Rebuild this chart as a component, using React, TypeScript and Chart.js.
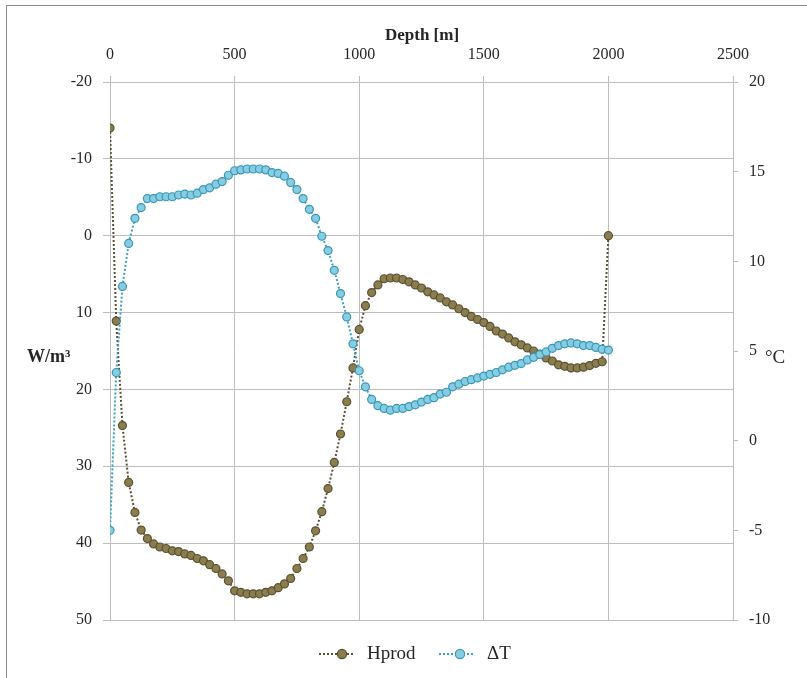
import React, { useEffect, useRef } from "react";
import { Chart, registerables } from "chart.js";

Chart.register(...registerables);

// Depth samples along the well [m]
const depths = [
  0, 25, 50, 75, 100, 125, 150, 175, 200, 225, 250, 275, 300, 325, 350, 375, 400,
  425, 450, 475, 500, 525, 550, 575, 600, 625, 650, 675, 700, 725, 750, 775, 800,
  825, 850, 875, 900, 925, 950, 975, 1000, 1025, 1050, 1075, 1100, 1125, 1150,
  1175, 1200, 1225, 1250, 1275, 1300, 1325, 1350, 1375, 1400, 1425, 1450, 1475,
  1500, 1525, 1550, 1575, 1600, 1625, 1650, 1675, 1700, 1725, 1750, 1775, 1800,
  1825, 1850, 1875, 1900, 1925, 1950, 1975, 2000,
];

// Heat production [W/m³] (left axis, reversed)
const hprod = [
  -14.0, 11.1, 24.7, 32.1, 36.0, 38.3, 39.4, 40.1, 40.5, 40.7, 41.0, 41.1, 41.4,
  41.6, 42.0, 42.3, 42.8, 43.3, 44.0, 44.9, 46.2, 46.4, 46.6, 46.6, 46.6, 46.4,
  46.2, 45.8, 45.3, 44.6, 43.3, 42.0, 40.5, 38.4, 35.9, 32.9, 29.5, 25.8, 21.6,
  17.2, 12.2, 9.1, 7.4, 6.4, 5.6, 5.5, 5.5, 5.7, 6.0, 6.4, 6.8, 7.3, 7.7, 8.1,
  8.6, 9.0, 9.5, 10.0, 10.5, 10.9, 11.3, 11.8, 12.4, 12.8, 13.3, 13.8, 14.2,
  14.6, 15.0, 15.4, 15.9, 16.3, 16.8, 17.0, 17.2, 17.2, 17.1, 16.9, 16.6, 16.4,
  0.0,
];

// Temperature difference [°C] (right axis)
const deltaT = [
  -5.0, 3.8, 8.6, 11.0, 12.4, 13.0, 13.5, 13.5, 13.6, 13.6, 13.6, 13.7, 13.75,
  13.7, 13.8, 14.0, 14.1, 14.3, 14.45, 14.8, 15.05, 15.1, 15.15, 15.15, 15.15,
  15.1, 14.95, 14.9, 14.75, 14.4, 14.0, 13.5, 12.9, 12.4, 11.4, 10.6, 9.5, 8.2,
  6.9, 5.4, 3.9, 3.0, 2.3, 1.95, 1.8, 1.7, 1.8, 1.8, 1.9, 2.0, 2.15, 2.3, 2.4,
  2.6, 2.7, 3.0, 3.15, 3.3, 3.4, 3.5, 3.6, 3.7, 3.8, 3.95, 4.1, 4.2, 4.3, 4.5,
  4.65, 4.8, 4.95, 5.15, 5.3, 5.4, 5.45, 5.4, 5.3, 5.3, 5.2, 5.1, 5.05,
];

const FONT = "'Liberation Serif', 'DejaVu Serif', serif";
const GRID = "#bdbdbd";
const TEXT = "#262626";

const H_LINE = "#57523a";
const H_FILL = "#8a7d4e";
const H_EDGE = "#5a5031";
const T_LINE = "#3d9fc4";
const T_FILL = "#86cde2";
const T_EDGE = "#3a96b6";

// Axis titles and the dotted-marker legend drawn onto the canvas
const annotations = {
  id: "annotations",
  afterDraw(chart: any) {
    const ctx = chart.ctx;
    ctx.save();
    ctx.fillStyle = TEXT;
    ctx.textBaseline = "middle";

    ctx.font = `bold 17px ${FONT}`;
    ctx.textAlign = "center";
    ctx.fillText("Depth [m]", 422, 36);

    ctx.font = `bold 18px ${FONT}`;
    ctx.textAlign = "left";
    ctx.fillText("W/m³", 27, 357);

    ctx.font = `19px ${FONT}`;
    ctx.fillText("°C", 765, 358);

    const item = (x1: number, x2: number, cx: number, tx: number, line: string, fill: string, edge: string, label: string) => {
      const y = 654;
      ctx.save();
      ctx.strokeStyle = line;
      ctx.lineWidth = 2;
      ctx.setLineDash([2, 2]);
      ctx.beginPath();
      ctx.moveTo(x1, y);
      ctx.lineTo(x2, y);
      ctx.stroke();
      ctx.setLineDash([]);
      ctx.beginPath();
      ctx.arc(cx, y, 4.6, 0, Math.PI * 2);
      ctx.fillStyle = fill;
      ctx.fill();
      ctx.lineWidth = 1.2;
      ctx.strokeStyle = edge;
      ctx.stroke();
      ctx.restore();
      ctx.font = `19px ${FONT}`;
      ctx.fillStyle = TEXT;
      ctx.textAlign = "left";
      ctx.fillText(label, tx, y);
    };
    item(319, 355, 342, 367, H_LINE, H_FILL, H_EDGE, "Hprod");
    item(439, 473, 460, 487, T_LINE, T_FILL, T_EDGE, "ΔT");
    ctx.restore();
  },
};

export default function App() {
  const canvasRef = useRef<HTMLCanvasElement | null>(null);

  useEffect(() => {
    if (!canvasRef.current) return;
    const chart = new Chart(canvasRef.current, {
      type: "line",
      data: {
        datasets: [
          {
            label: "Hprod",
            data: depths.map((d, i) => ({ x: d, y: hprod[i] })),
            yAxisID: "y",
            order: 1,
            borderColor: H_LINE,
            borderWidth: 2,
            borderDash: [2, 2],
            pointRadius: 4,
            pointBorderWidth: 1.2,
            pointBackgroundColor: H_FILL,
            pointBorderColor: H_EDGE,
            tension: 0,
            fill: false,
          },
          {
            label: "ΔT",
            data: depths.map((d, i) => ({ x: d, y: deltaT[i] })),
            yAxisID: "y2",
            order: 0,
            borderColor: T_LINE,
            borderWidth: 2,
            borderDash: [2, 2],
            pointRadius: 4,
            pointBorderWidth: 1.2,
            pointBackgroundColor: T_FILL,
            pointBorderColor: T_EDGE,
            tension: 0,
            fill: false,
          },
        ],
      },
      options: {
        responsive: false,
        animation: false,
        devicePixelRatio: 1,
        layout: { autoPadding: false, padding: { left: 0, right: 0, top: 0, bottom: 58 } },
        plugins: {
          legend: { display: false },
          tooltip: { enabled: false },
        },
        scales: {
          x: {
            type: "linear",
            position: "top",
            min: 0,
            max: 2500,
            afterFit: (s: any) => { s.height = 82; },
            ticks: {
              stepSize: 500,
              padding: 12,
              maxRotation: 0,
              color: TEXT,
              font: { family: FONT, size: 16 },
              callback: (v: any) => String(v),
            },
            grid: { color: GRID, tickLength: 6, lineWidth: 1 },
            border: { color: GRID },
          },
          y: {
            type: "linear",
            position: "left",
            reverse: true,
            min: -20,
            max: 50,
            afterFit: (s: any) => { s.width = 110; },
            ticks: {
              stepSize: 10,
              padding: 11,
              color: TEXT,
              font: { family: FONT, size: 16 },
              callback: (v: any) => String(v),
            },
            grid: { color: GRID, tickLength: 7, lineWidth: 1 },
            border: { color: GRID },
          },
          y2: {
            type: "linear",
            position: "right",
            min: -10,
            max: 20,
            afterFit: (s: any) => { s.width = 74; },
            ticks: {
              stepSize: 5,
              padding: 11,
              color: TEXT,
              font: { family: FONT, size: 16 },
              callback: (v: any) => String(v),
            },
            grid: { color: GRID, tickLength: 5, drawOnChartArea: false },
            border: { color: GRID },
          },
        },
      },
      plugins: [annotations],
    } as any);
    return () => chart.destroy();
  }, []);

  return (
    <div style={{ position: "fixed", left: 0, top: 0, width: 807, height: 678, background: "#fff", overflow: "hidden" }}>
      <div
        style={{
          position: "absolute",
          left: 6,
          top: 5,
          width: 820,
          height: 700,
          borderLeft: "1px solid #8c8c8c",
          borderTop: "1px solid #8c8c8c",
        }}
      />
      <canvas ref={canvasRef} width={807} height={678} style={{ position: "absolute", left: 0, top: 0 }} />
    </div>
  );
}
